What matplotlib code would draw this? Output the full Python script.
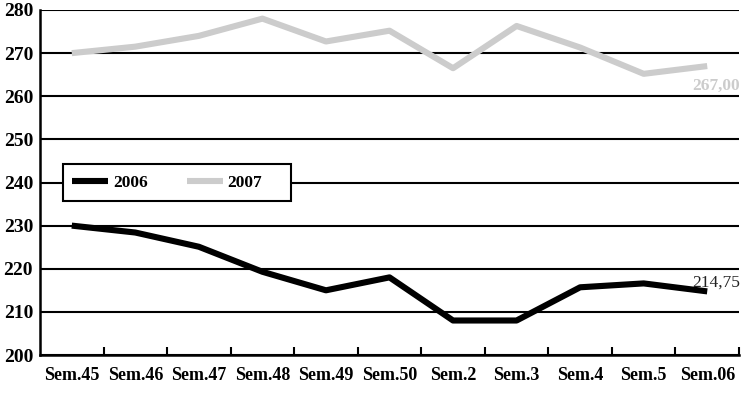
import matplotlib
matplotlib.use("Agg")
import matplotlib.pyplot as plt
from matplotlib.patches import Rectangle
import numpy as np

categories = ["Sem.45", "Sem.46", "Sem.47", "Sem.48", "Sem.49", "Sem.50",
              "Sem.2", "Sem.3", "Sem.4", "Sem.5", "Sem.06"]
series_2006 = [230.0, 228.4, 225.1, 219.3, 215.0, 218.0, 208.0, 208.0, 215.7, 216.6, 214.75]
series_2007 = [270.0, 271.5, 274.0, 278.0, 272.7, 275.2, 266.5, 276.3, 271.3, 265.2, 267.0]
yticks = [200, 210, 220, 230, 240, 250, 260, 270, 280]
label_2006 = "214,75"
label_2007 = "267,00"

plt.rcParams['font.family'] = ['Liberation Serif', 'DejaVu Serif']

fig = plt.figure(figsize=(7.47, 3.96), dpi=100)
ax = fig.add_axes([40/747, 41/396, 699/747, 345/396])

x = np.arange(len(categories))
ax.plot(x, series_2006, color="black", lw=4.4, solid_capstyle="butt", label="2006", zorder=3)
ax.plot(x, series_2007, color="#cccccc", lw=4.4, solid_capstyle="butt", label="2007", zorder=3)

ax.set_xlim(-0.5, len(categories) - 0.5)
ax.set_ylim(200, 280)
ax.set_yticks(yticks)
ax.set_yticklabels([str(v) for v in yticks], fontsize=14, fontweight="bold")
ax.tick_params(axis="y", length=0, pad=5)

ax.set_xticks(x)
ax.set_xticklabels(categories, fontsize=13, fontweight="bold")
ax.tick_params(axis="x", which="major", length=0, pad=9)
ax.set_xticks(np.arange(len(categories)) + 0.5, minor=True)
ax.tick_params(axis="x", which="minor", direction="in", length=6, width=1.5, color="black")

ax.yaxis.grid(True, color="black", lw=1.5, zorder=1)
ax.set_axisbelow(True)
for s in ["top", "right"]:
    ax.spines[s].set_visible(False)
ax.spines["left"].set_linewidth(1.8)
ax.spines["bottom"].set_linewidth(1.8)

ax.annotate(label_2007, (x[-1], series_2007[-1]), xytext=(-11, -14), textcoords="offset points",
            fontsize=12.5, color="#cccccc", ha="left", va="center", fontweight="bold")
ax.annotate(label_2006, (x[-1], series_2006[-1]), xytext=(-11, 6.5), textcoords="offset points",
            fontsize=12.5, color="#222222", ha="left", va="center")

# legend frame drawn as a box, legend entries inside without frame
box = Rectangle((23/699, (355-201)/345), 228/699, 37/345, transform=ax.transAxes,
                facecolor="white", edgecolor="black", lw=1.5, zorder=4)
ax.add_patch(box)
leg = ax.legend(loc="center left", bbox_to_anchor=(32/699, (355-182.5)/345),
                ncol=2, frameon=False, prop={"size": 12.5, "weight": "bold"},
                handlelength=2.1, columnspacing=2.25, handletextpad=0.25,
                borderpad=0, borderaxespad=0)
leg.set_zorder(5)

fig.savefig("out.png", dpi=100)
